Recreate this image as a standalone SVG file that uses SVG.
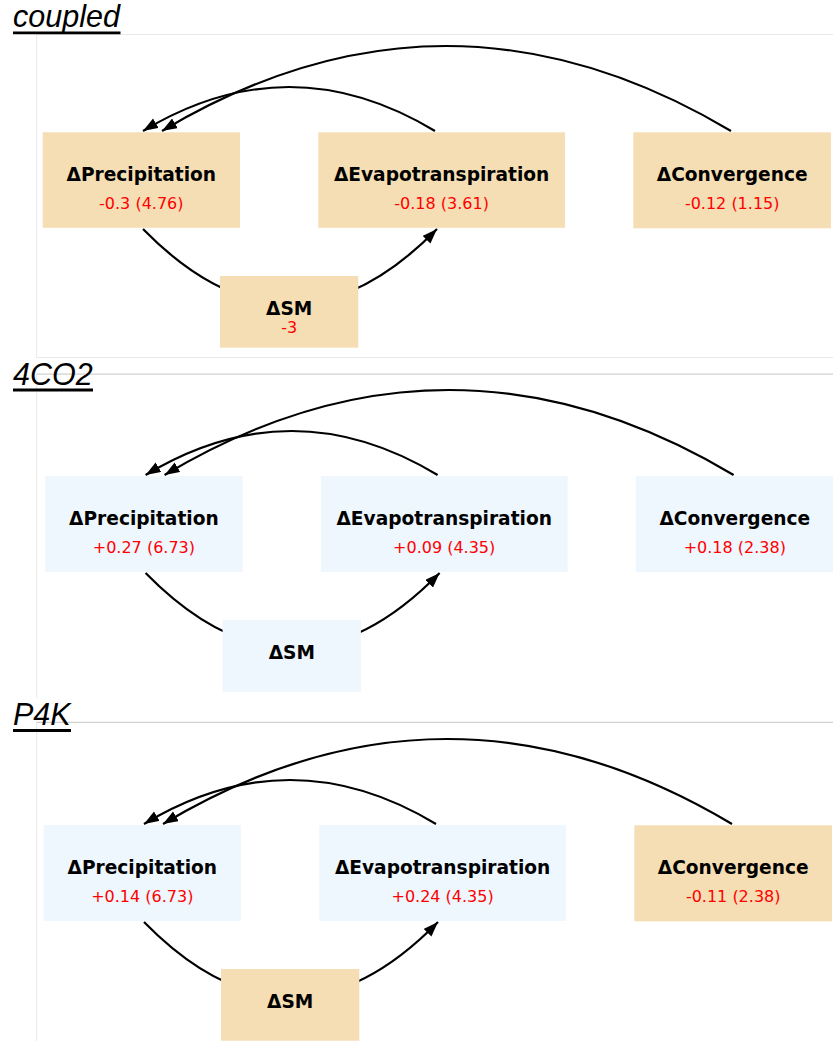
<svg xmlns="http://www.w3.org/2000/svg" width="833" height="1041" viewBox="0 0 833 1041">
<style>
.bg{fill:#ffffff}
.frameLight{stroke:#e8e8e8;stroke-width:1;fill:none}
.frameDark{stroke:#d0d0d0;stroke-width:1.2;fill:none}
.ptitle{font-family:"Liberation Sans",Arial,sans-serif;font-style:italic;font-size:30.5px;fill:#000}
.uline{stroke:#000;stroke-width:2.8}
.warm{fill:#f5deb3}
.cool{fill:#eef6fe}
.ntitle{font-family:"DejaVu Sans",sans-serif;font-weight:bold;font-size:18.6px;fill:#000;text-anchor:middle}
.nval{font-family:"DejaVu Sans",sans-serif;font-size:16px;fill:#ff0000;text-anchor:middle}
.arrow{fill:none;stroke:#000;stroke-width:2.2;marker-end:url(#ah)}
</style>
<defs>
<marker id="ah" markerUnits="userSpaceOnUse" markerWidth="18" markerHeight="14" refX="15" refY="5.5" orient="auto">
<path d="M0,0 L15,5.5 L0,11 z" fill="#000"/>
</marker>
</defs>
<rect class="bg" x="0" y="0" width="833" height="1041"/>

<g id="panel-frames">
<path class="frameLight" d="M833,34.5 H36.7 V357.5 H833"/>
<path class="frameLight" d="M36.7,374 V698"/>
<path class="frameDark" d="M36.7,374.2 H833"/>
<path class="frameLight" d="M36.7,722 V1041"/>
<path class="frameDark" d="M36.7,722.3 H833"/>
</g>

<g id="panel-titles">
<text class="ptitle" x="13" y="27">coupled</text>
<line class="uline" x1="13" y1="32.8" x2="120.5" y2="32.8"/>
<text class="ptitle" x="13" y="385">4CO2</text>
<line class="uline" x1="13" y1="390" x2="93" y2="390"/>
<text class="ptitle" x="13" y="725">P4K</text>
<line class="uline" x1="13" y1="730.5" x2="71" y2="730.5"/>
</g>

<!-- Panel 1: coupled -->
<g id="panel-coupled">
<g id="coupled-connectors">
<path class="arrow" d="M435,131 Q289,43 143,131"/>
<path class="arrow" d="M731,131 Q446,-39 162,131"/>
<path class="arrow" d="M143,229 Q290,379 437,229"/>
</g>
<g id="coupled-precipitation">
<rect class="warm" x="42.7" y="132.3" width="197.3" height="95.5"/>
<text class="ntitle" x="141.3" y="181">ΔPrecipitation</text>
<text class="nval" x="141.3" y="208.5">-0.3 (4.76)</text>
</g>
<g id="coupled-evapotranspiration">
<rect class="warm" x="318.3" y="132.3" width="246.7" height="95.5"/>
<text class="ntitle" x="441.6" y="181">ΔEvapotranspiration</text>
<text class="nval" x="441.6" y="208.5">-0.18 (3.61)</text>
</g>
<g id="coupled-convergence">
<rect class="warm" x="633.3" y="132.3" width="197.7" height="96"/>
<text class="ntitle" x="732.2" y="181">ΔConvergence</text>
<text class="nval" x="732.2" y="208.5">-0.12 (1.15)</text>
</g>
<g id="coupled-sm">
<rect class="warm" x="220" y="276" width="138.3" height="71.7"/>
<text class="ntitle" x="289.2" y="315">ΔSM</text>
<text class="nval" x="289.2" y="333">-3</text>
</g>
</g>

<!-- Panel 2: 4CO2 -->
<g id="panel-4co2" transform="translate(2.6,344)">
<g id="co2-connectors">
<path class="arrow" d="M435,131 Q289,43 143,131"/>
<path class="arrow" d="M731,131 Q446,-39 162,131"/>
<path class="arrow" d="M143,229 Q290,379 437,229"/>
</g>
<g id="co2-precipitation">
<rect class="cool" x="42.7" y="132.3" width="197.3" height="95.5"/>
<text class="ntitle" x="141.3" y="181">ΔPrecipitation</text>
<text class="nval" x="141.3" y="208.5">+0.27 (6.73)</text>
</g>
<g id="co2-evapotranspiration">
<rect class="cool" x="318.3" y="132.3" width="246.7" height="95.5"/>
<text class="ntitle" x="441.6" y="181">ΔEvapotranspiration</text>
<text class="nval" x="441.6" y="208.5">+0.09 (4.35)</text>
</g>
<g id="co2-convergence">
<rect class="cool" x="633.3" y="132.3" width="197.7" height="96"/>
<text class="ntitle" x="732.2" y="181">ΔConvergence</text>
<text class="nval" x="732.2" y="208.5">+0.18 (2.38)</text>
</g>
<g id="co2-sm">
<rect class="cool" x="220" y="276" width="138.3" height="71.7"/>
<text class="ntitle" x="289.2" y="315">ΔSM</text>
</g>
</g>

<!-- Panel 3: P4K -->
<g id="panel-p4k" transform="translate(1,693)">
<g id="p4k-connectors">
<path class="arrow" d="M435,131 Q289,43 143,131"/>
<path class="arrow" d="M731,131 Q446,-39 162,131"/>
<path class="arrow" d="M143,229 Q290,379 437,229"/>
</g>
<g id="p4k-precipitation">
<rect class="cool" x="42.7" y="132.3" width="197.3" height="95.5"/>
<text class="ntitle" x="141.3" y="181">ΔPrecipitation</text>
<text class="nval" x="141.3" y="208.5">+0.14 (6.73)</text>
</g>
<g id="p4k-evapotranspiration">
<rect class="cool" x="318.3" y="132.3" width="246.7" height="95.5"/>
<text class="ntitle" x="441.6" y="181">ΔEvapotranspiration</text>
<text class="nval" x="441.6" y="208.5">+0.24 (4.35)</text>
</g>
<g id="p4k-convergence">
<rect class="warm" x="633.3" y="132.3" width="197.7" height="96"/>
<text class="ntitle" x="732.2" y="181">ΔConvergence</text>
<text class="nval" x="732.2" y="208.5">-0.11 (2.38)</text>
</g>
<g id="p4k-sm">
<rect class="warm" x="220" y="276" width="138.3" height="71.7"/>
<text class="ntitle" x="289.2" y="315">ΔSM</text>
</g>
</g>
</svg>
